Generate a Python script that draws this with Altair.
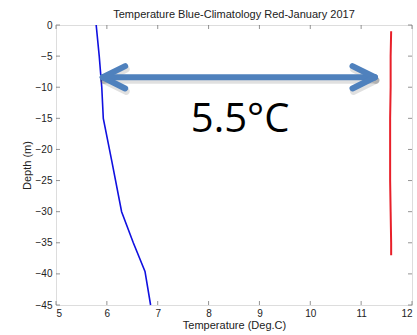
import altair as alt
import pandas as pd

# ---- data ----
clim_temp = [5.79, 5.85, 5.90, 5.93, 6.10, 6.29, 6.52, 6.75, 6.86]
clim_depth = [0, -5, -10, -15, -22, -30, -35, -39.6, -45]
jan_temp = [11.59, 11.58, 11.58, 11.57, 11.57, 11.57, 11.58, 11.59, 11.59]
jan_depth = [-1, -5, -10, -15, -20, -25, -30, -35, -37]

x_ticks = [5, 6, 7, 8, 9, 10, 11, 12]
y_ticks = [0, -5, -10, -15, -20, -25, -30, -35, -40, -45]

arrow_left = 5.92
arrow_right = 11.27
arrow_depth = -8.4
head_dt = 0.44
head_dd = 1.8
label_text = "5.5°C"
label_temp = 8.62
label_depth = -15.3

W, H = 356, 280
FONT = "Liberation Sans"
xs = alt.Scale(domain=[5, 12], nice=False, zero=False)
ys = alt.Scale(domain=[-45, 0], nice=False, zero=False)

clim = pd.DataFrame({"t": clim_temp, "d": clim_depth})
jan = pd.DataFrame({"t": jan_temp, "d": jan_depth})
xt = pd.DataFrame({"t": x_ticks})
yt = pd.DataFrame({"d": y_ticks})

segs = []
def seg(i, x0, y0, x1, y1):
    segs.append({"s": i, "o": 0, "t": x0, "d": y0})
    segs.append({"s": i, "o": 1, "t": x1, "d": y1})
seg(0, arrow_left, arrow_depth, arrow_right, arrow_depth)
seg(1, arrow_left, arrow_depth, arrow_left + head_dt, arrow_depth + head_dd)
seg(2, arrow_left, arrow_depth, arrow_left + head_dt, arrow_depth - head_dd)
seg(3, arrow_right, arrow_depth, arrow_right - head_dt, arrow_depth + head_dd)
seg(4, arrow_right, arrow_depth, arrow_right - head_dt, arrow_depth - head_dd)
arrow = pd.DataFrame(segs)
lab = pd.DataFrame({"t": [label_temp], "d": [label_depth], "txt": [label_text]})

common = dict(labelFont=FONT, titleFont=FONT, labelColor="#222", titleColor="#222",
              labelFontSize=10, titleFontSize=11, titleFontWeight="normal", grid=False)

main_x = alt.Axis(orient="bottom", values=x_ticks, ticks=False, domain=False,
                  title="Temperature (Deg.C)", labelPadding=3, titlePadding=1, **common)
main_y = alt.Axis(orient="left", values=y_ticks, ticks=False, domain=False,
                  title="Depth (m)", labelPadding=4, titlePadding=3, **common)

X = lambda f="t:Q": alt.X(f, scale=xs, axis=main_x)
Y = lambda f="d:Q": alt.Y(f, scale=ys, axis=main_y)

TICK = dict(size=4, thickness=1, color="#666")
tick_top = alt.Chart(xt).mark_tick(orient="vertical", **TICK).encode(x=X(), y=alt.value(2))
tick_bot = alt.Chart(xt).mark_tick(orient="vertical", **TICK).encode(x=X(), y=alt.value(H - 2))
tick_left = alt.Chart(yt).mark_tick(orient="horizontal", **TICK).encode(y=Y(), x=alt.value(2))
tick_right = alt.Chart(yt).mark_tick(orient="horizontal", **TICK).encode(y=Y(), x=alt.value(W - 2))

blue = alt.Chart(clim).mark_line(color="#1010e0", strokeWidth=1.6).encode(
    x=X(), y=Y(), order=alt.Order("d:Q", sort="descending"))
red = alt.Chart(jan).mark_line(color="#e8202a", strokeWidth=2).encode(
    x=X(), y=Y(), order=alt.Order("d:Q", sort="descending"))
shadow = alt.Chart(arrow).mark_line(color="#555", strokeWidth=7, strokeCap="round",
                                    opacity=0.18, xOffset=1, yOffset=3).encode(
    x=X(), y=Y(), detail="s:N", order="o:Q")
arr = alt.Chart(arrow).mark_line(color="#4f81bd", strokeWidth=6, strokeCap="round").encode(
    x=X(), y=Y(), detail="s:N", order="o:Q")
txt = alt.Chart(lab).mark_text(font="Open Sans", fontSize=40, color="#000",
                               baseline="middle", align="center").encode(
    x=X(), y=Y(), text="txt:N")

chart = alt.layer(blue, red, shadow, arr, txt, tick_top, tick_bot, tick_left, tick_right).properties(
    width=W, height=H,
    title=alt.Title("Temperature Blue-Climatology Red-January 2017", font=FONT,
                    fontSize=11, fontWeight="normal", color="#222", anchor="middle", offset=0),
    autosize=alt.AutoSizeParams(type="none"),
    padding={"left": 56, "top": 25, "right": 5, "bottom": 30},
).configure_view(stroke="#888", strokeWidth=1).configure(background="white")

chart.save("out.html", embed_options={"renderer": "svg", "actions": False})
